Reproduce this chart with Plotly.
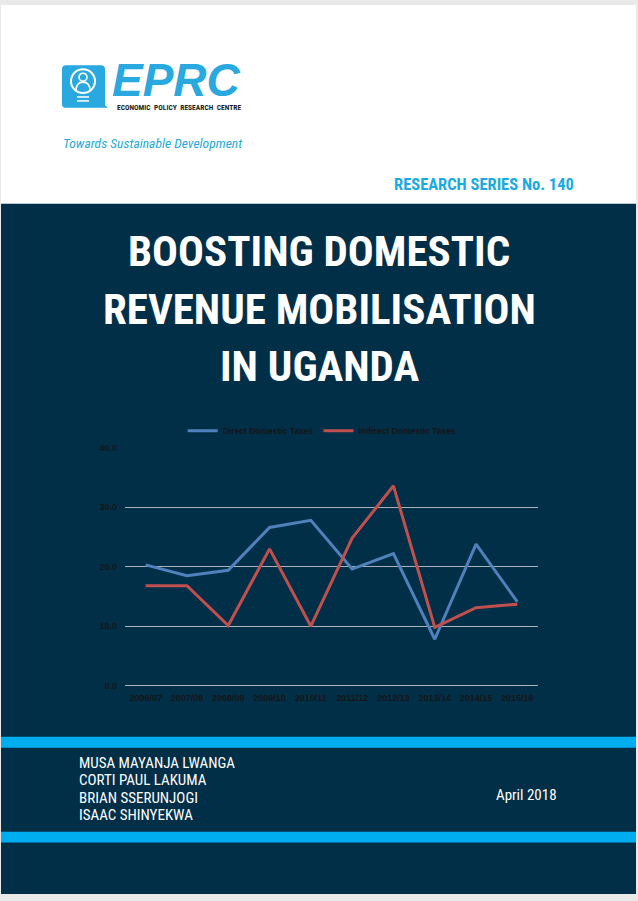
import plotly.graph_objects as go

W, H = 638, 901

years = ["2006/07", "2007/08", "2008/09", "2009/10", "2010/11",
         "2011/12", "2012/13", "2013/14", "2014/15", "2015/16"]
direct_taxes = [20.3, 18.5, 19.4, 26.6, 27.8, 19.6, 22.2, 7.8, 23.8, 14.1]
indirect_taxes = [16.8, 16.8, 10.1, 23.0, 10.0, 24.8, 33.6, 9.8, 13.1, 13.7]
y_ticks = [0, 10, 20, 30, 40]

title_lines = ["BOOSTING DOMESTIC", "REVENUE MOBILISATION", "IN UGANDA"]
authors = ["MUSA MAYANJA LWANGA", "CORTI PAUL LAKUMA",
           "BRIAN SSERUNJOGI", "ISAAC SHINYEKWA"]

NAVY = "#022f48"
CYAN = "#00adee"
LOGO_BLUE = "#29a9e0"
NARROW = "Roboto Condensed, Liberation Sans Narrow, Arial Narrow, Roboto, sans-serif"
SANS = "Liberation Sans, Arial, sans-serif"


def fx(p):
    return p / W


def fy(p):
    return 1 - p / H


def rect(x0, y0, x1, y1, color):
    return dict(type="rect", xref="paper", yref="paper",
                x0=fx(x0), x1=fx(x1), y0=fy(y1), y1=fy(y0),
                fillcolor=color, line=dict(width=0), layer="below")


def label(text, x, y, size, color, xanchor="left", bold=False,
          italic=False, family=NARROW):
    return dict(text=text, x=fx(x), y=fy(y), xref="paper", yref="paper",
                xanchor=xanchor, yanchor="middle", showarrow=False,
                font=dict(family=family, size=size, color=color,
                          weight="bold" if bold else "normal",
                          style="italic" if italic else "normal"))


fig = go.Figure()
fig.add_trace(go.Scatter(x=years, y=direct_taxes, mode="lines",
                         name="Direct Domestic Taxes",
                         line=dict(color="#4f81bd", width=3)))
fig.add_trace(go.Scatter(x=years, y=indirect_taxes, mode="lines",
                         name="Indirect Domestic Taxes",
                         line=dict(color="#c0504d", width=3)))

shapes = [
    rect(1, 0, 636, 201, "white"),
    rect(1, 201, 636, 899, NAVY),
    rect(1, 740, 636, 751, CYAN),
    rect(1, 836, 636, 847, CYAN),
]

# logo: rounded square with a small tail, ring and person icon
x0, y0, x1, y1, r = 62, 61, 105, 104, 4
logo_path = (f"M {fx(x0 + r)},{fy(y0)} L {fx(x1 - r)},{fy(y0)} "
             f"Q {fx(x1)},{fy(y0)} {fx(x1)},{fy(y0 + r)} "
             f"L {fx(x1)},{fy(y1 - 3)} L {fx(x1 + 3)},{fy(y1)} "
             f"L {fx(x0 + r)},{fy(y1)} Q {fx(x0)},{fy(y1)} {fx(x0)},{fy(y1 - r)} "
             f"L {fx(x0)},{fy(y0 + r)} Q {fx(x0)},{fy(y0)} {fx(x0 + r)},{fy(y0)} Z")
shapes.append(dict(type="path", xref="paper", yref="paper", path=logo_path,
                   fillcolor=LOGO_BLUE, line=dict(width=0), layer="below"))
shapes.append(dict(type="circle", xref="paper", yref="paper",
                   x0=fx(71), x1=fx(95), y0=fy(89), y1=fy(65),
                   line=dict(color="white", width=2), layer="below"))
shapes.append(dict(type="circle", xref="paper", yref="paper",
                   x0=fx(79), x1=fx(87), y0=fy(77), y1=fy(69),
                   line=dict(color="white", width=1.6), layer="below"))
body = (f"M {fx(76)},{fy(87)} Q {fx(76)},{fy(78)} {fx(83)},{fy(78)} "
        f"Q {fx(90)},{fy(78)} {fx(90)},{fy(87)}")
shapes.append(dict(type="path", xref="paper", yref="paper", path=body,
                   line=dict(color="white", width=1.6), layer="below"))
for yy in (93, 97):
    shapes.append(dict(type="line", xref="paper", yref="paper",
                       x0=fx(77), x1=fx(89), y0=fy(yy), y1=fy(yy),
                       line=dict(color="white", width=1.5), layer="below"))

annotations = [
    label("EPRC", 176, 76, 46, LOGO_BLUE, xanchor="center", bold=True,
          italic=True, family=SANS),
    label("ECONOMIC  POLICY  RESEARCH  CENTRE", 178.5, 104, 7.5, "#1d1d1b",
          xanchor="center", bold=True),
    label("Towards Sustainable Development", 61, 139.5, 13.6, LOGO_BLUE,
          italic=True),
    label("RESEARCH SERIES No. 140", 576, 181.5, 16.5, "#1aaae3",
          xanchor="right", bold=True),
    label("April 2018", 494, 798.5, 15, "white"),
]
for text, yc in zip(title_lines, [249, 307.5, 365]):
    annotations.append(label(text, 319, yc, 43, "white",
                             xanchor="center", bold=True))
for text, yc in zip(authors, [766.5, 784, 801.5, 819]):
    annotations.append(label(text, 77, yc, 15, "white"))

tick_font = dict(family=SANS, size=9, color="#161616", weight="bold")

fig.update_layout(
    width=W,
    height=H,
    autosize=False,
    margin=dict(l=0, r=0, t=0, b=0),
    paper_bgcolor="#e9e9e9",
    plot_bgcolor="rgba(0,0,0,0)",
    shapes=shapes,
    annotations=annotations,
    showlegend=True,
    legend=dict(orientation="h", x=0.505, xanchor="center",
                y=fy(430.5), yanchor="middle",
                bgcolor="rgba(0,0,0,0)",
                font=dict(family=SANS, size=8.5, color="#161616",
                          weight="bold"),
                itemwidth=30, tracegroupgap=0),
    xaxis=dict(domain=[fx(125), fx(538)], range=[-0.5, 9.5],
               showgrid=False, zeroline=False, showline=False,
               ticks="", tickfont=tick_font, ticklabelstandoff=5,
               fixedrange=True),
    yaxis=dict(domain=[fy(688.3), fy(447.7)], range=[0, 40],
               tickvals=y_ticks, tickformat=".1f",
               showgrid=True, gridcolor="#a9b2b8", gridwidth=1,
               zeroline=True, zerolinecolor="#a9b2b8", zerolinewidth=1,
               showline=False, ticks="", tickfont=tick_font,
               ticklabelstandoff=7, fixedrange=True),
)

# the page should sit flush with the window, without the default body margin
fig.write_html(
    "out.html",
    config={"displayModeBar": False},
    post_script="document.body.style.margin = '0'; "
                "document.body.style.overflow = 'hidden';",
)
